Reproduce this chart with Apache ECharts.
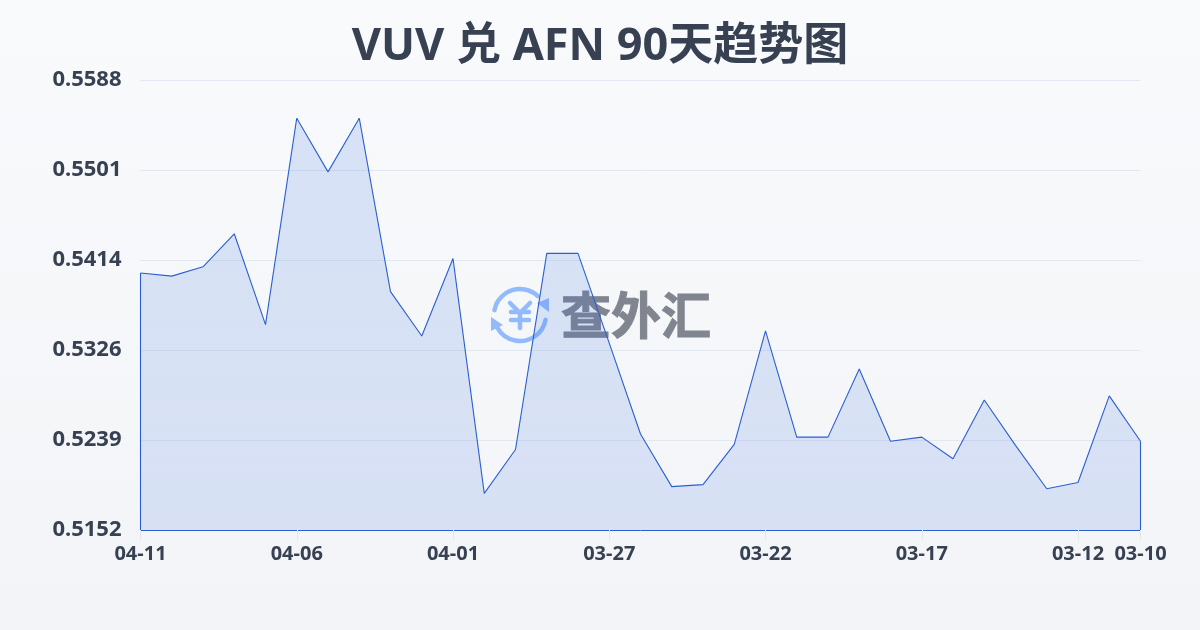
<!DOCTYPE html>
<html><head><meta charset="utf-8">
<style>html,body{margin:0;padding:0;background:#f8fafc}#c{width:1200px;height:630px}</style>
<script src="https://cdn.jsdelivr.net/npm/echarts@6/dist/echarts.min.js"></script></head>
<body><div id="c"></div>
<script>
const titleText = 'VUV 兑 AFN 90天趋势图';
const categories = ['04-11','04-10','04-09','04-08','04-07','04-06','04-05','04-04','04-03','04-02','04-01','03-31','03-30','03-29','03-28','03-27','03-26','03-25','03-24','03-23','03-22','03-21','03-20','03-19','03-18','03-17','03-16','03-15','03-14','03-13','03-12','03-11','03-10'];
const rates = [0.5401,0.5398,0.5407,0.5439,0.5351,0.5551,0.5499,0.5551,0.5383,0.5340,0.5415,0.51875,0.5230,0.5420,0.5420,0.5333,0.5245,0.5194,0.5196,0.5235,0.5345,0.5242,0.5242,0.5308,0.5238,0.5242,0.5221,0.5278,0.5234,0.5192,0.5198,0.5282,0.5238];
const shownLabels = ['04-11','04-06','04-01','03-27','03-22','03-17','03-12','03-10'];
const axisMin = 0.5152, axisMax = 0.5588, axisStep = 0.00872;
const lineColor = '#2b5fd0', inkColor = '#374151';
const isShown = (i, name) => shownLabels.includes(name);
const chart = echarts.init(document.getElementById('c'), null, {renderer:'canvas'});
const font = '"Noto Sans","Noto Sans CJK SC",sans-serif';
const logoBlue = '#93bbfb';
const logoStroke = {stroke:logoBlue,lineWidth:4.5,fill:null,lineCap:'round',lineJoin:'round'};
chart.setOption({
  animation:false,
  backgroundColor:{type:'linear',x:0,y:0,x2:0,y2:1,colorStops:[{offset:0,color:'#f8fafc'},{offset:1,color:'#f2f4f7'}]},
  title:{text:titleText,left:'center',top:20,textStyle:{fontFamily:font,fontSize:45,fontWeight:'bold',color:inkColor}},
  grid:{left:140.5,right:59.5,top:80,bottom:100},
  xAxis:{type:'category',boundaryGap:false,data:categories,
    axisLine:{show:true,lineStyle:{color:lineColor,width:1}},
    axisTick:{show:true,interval:isShown,length:10,lineStyle:{color:'#e2e8f0'}},
    axisLabel:{interval:isShown,hideOverlap:false,margin:14,fontFamily:font,fontSize:20,fontWeight:'bold',color:inkColor},
    splitLine:{show:false}},
  yAxis:{type:'value',min:axisMin,max:axisMax,interval:axisStep,
    axisLine:{show:false},axisTick:{show:false},
    axisLabel:{margin:19,fontFamily:font,fontSize:22,fontWeight:'bold',color:inkColor,formatter:v=>v.toFixed(4)},
    splitLine:{show:true,lineStyle:{color:'#e2e8f0',width:1}}},
  series:[{type:'line',data:rates,symbol:'none',smooth:false,z:3,
    lineStyle:{color:lineColor,width:1.1},
    areaStyle:{opacity:1,color:{type:'linear',x:0,y:0,x2:0,y2:1,colorStops:[{offset:0,color:'rgba(50,105,220,0.16)'},{offset:1,color:'rgba(50,105,220,0.14)'}]},origin:'start'},
    markLine:{silent:true,symbol:'none',label:{show:false},lineStyle:{color:lineColor,width:1.1,type:'solid'},
      data:[[{coord:[categories[0],axisMin]},{coord:[categories[0],rates[0]]}],
            [{coord:[categories[categories.length-1],axisMin]},{coord:[categories[categories.length-1],rates[rates.length-1]]}]]}
  }],
  graphic:[
    {type:'arc',z:0,shape:{cx:520,cy:315,r:26,startAngle:Math.PI*1.06,endAngle:Math.PI*1.74},style:logoStroke},
    {type:'arc',z:0,shape:{cx:520,cy:315,r:26,startAngle:Math.PI*0.06,endAngle:Math.PI*0.84},style:logoStroke},
    {type:'polygon',z:0,shape:{points:[[549,298],[549,312],[537,303]]},style:{fill:logoBlue}},
    {type:'polygon',z:0,shape:{points:[[491,317],[491,331],[503,325]]},style:{fill:logoBlue}},
    {type:'polyline',z:0,shape:{points:[[510,303],[520,313],[530,303]]},style:logoStroke},
    {type:'line',z:0,shape:{x1:511,y1:312,x2:529,y2:312},style:logoStroke},
    {type:'line',z:0,shape:{x1:511,y1:320,x2:529,y2:320},style:logoStroke},
    {type:'line',z:0,shape:{x1:520,y1:313,x2:520,y2:328},style:logoStroke},
    {type:'text',z:0,style:{text:'查外汇',x:561,y:315,verticalAlign:'middle',font:'bold 50px "Noto Sans CJK SC"',fill:'#808590',stroke:'#808590',lineWidth:1}}
  ]
});
</script></body></html>
